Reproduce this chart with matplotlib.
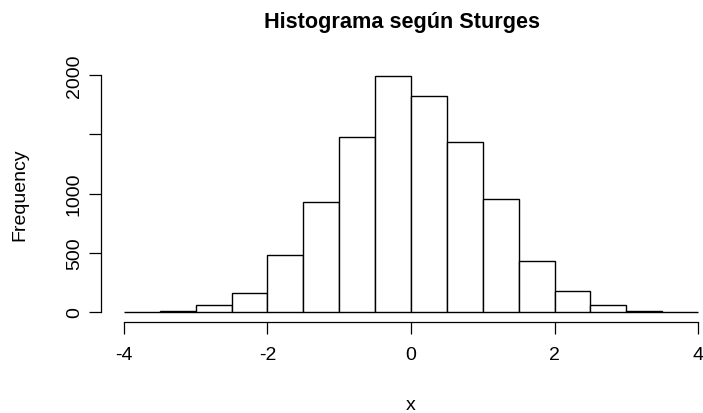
import matplotlib
matplotlib.use("Agg")
import matplotlib.pyplot as plt
import numpy as np

plt.rcParams["font.family"] = ["Liberation Sans", "DejaVu Sans"]

# bin edges (Sturges) and counts
edges = [-4.0, -3.5, -3.0, -2.5, -2.0, -1.5, -1.0, -0.5, 0.0,
         0.5, 1.0, 1.5, 2.0, 2.5, 3.0, 3.5, 4.0]
counts = [0, 5, 56, 158, 484, 932, 1479, 1994,
          1819, 1439, 952, 428, 175, 56, 9, 1]
xticks = [-4, -2, 0, 2, 4]
yticks = [0, 500, 1000, 1500, 2000]
yticklabels = ["0", "500", "1000", "", "2000"]

W, H = 703, 414
fig = plt.figure(figsize=(W / 100, H / 100), dpi=100)
# plot region in pixels (R style, 4% padding)
l, r, t, b = 101, 721, 67.3, 322.5
ax = fig.add_axes([l / W, 1 - b / H, (r - l) / W, (b - t) / H])

e = np.array(edges)
ax.bar(e[:-1], counts, width=np.diff(e), align="edge",
       facecolor="white", edgecolor="black", linewidth=1.0)

ax.set_xlim(-4.32, 4.32)
ax.set_ylim(-0.04 * max(counts), 1.04 * max(counts))

for s in ["top", "right"]:
    ax.spines[s].set_visible(False)
ax.spines["left"].set_bounds(0, 2000)
ax.spines["bottom"].set_bounds(-4, 4)
ax.spines["left"].set_linewidth(0.9)
ax.spines["bottom"].set_linewidth(0.9)

ax.set_xticks(xticks)
ax.set_xticklabels([str(v) for v in xticks])
ax.set_yticks(yticks)
ax.set_yticklabels(yticklabels, rotation=90, va="center")
ax.tick_params(axis="both", length=8.3, width=0.9, labelsize=14)
ax.tick_params(axis="x", pad=9.5)
ax.tick_params(axis="y", pad=4.7)

fig.text(411 / W, 1 - 406 / H, "x", ha="center", va="center", fontsize=14)
fig.text(20 / W, 1 - 195 / H, "Frequency", ha="center", va="center",
         rotation=90, fontsize=14)
fig.text(402 / W, 1 - 28 / H, "Histograma según Sturges", ha="center",
         va="baseline", fontsize=15.6, fontweight="bold")

fig.savefig("out.png", dpi=100)
